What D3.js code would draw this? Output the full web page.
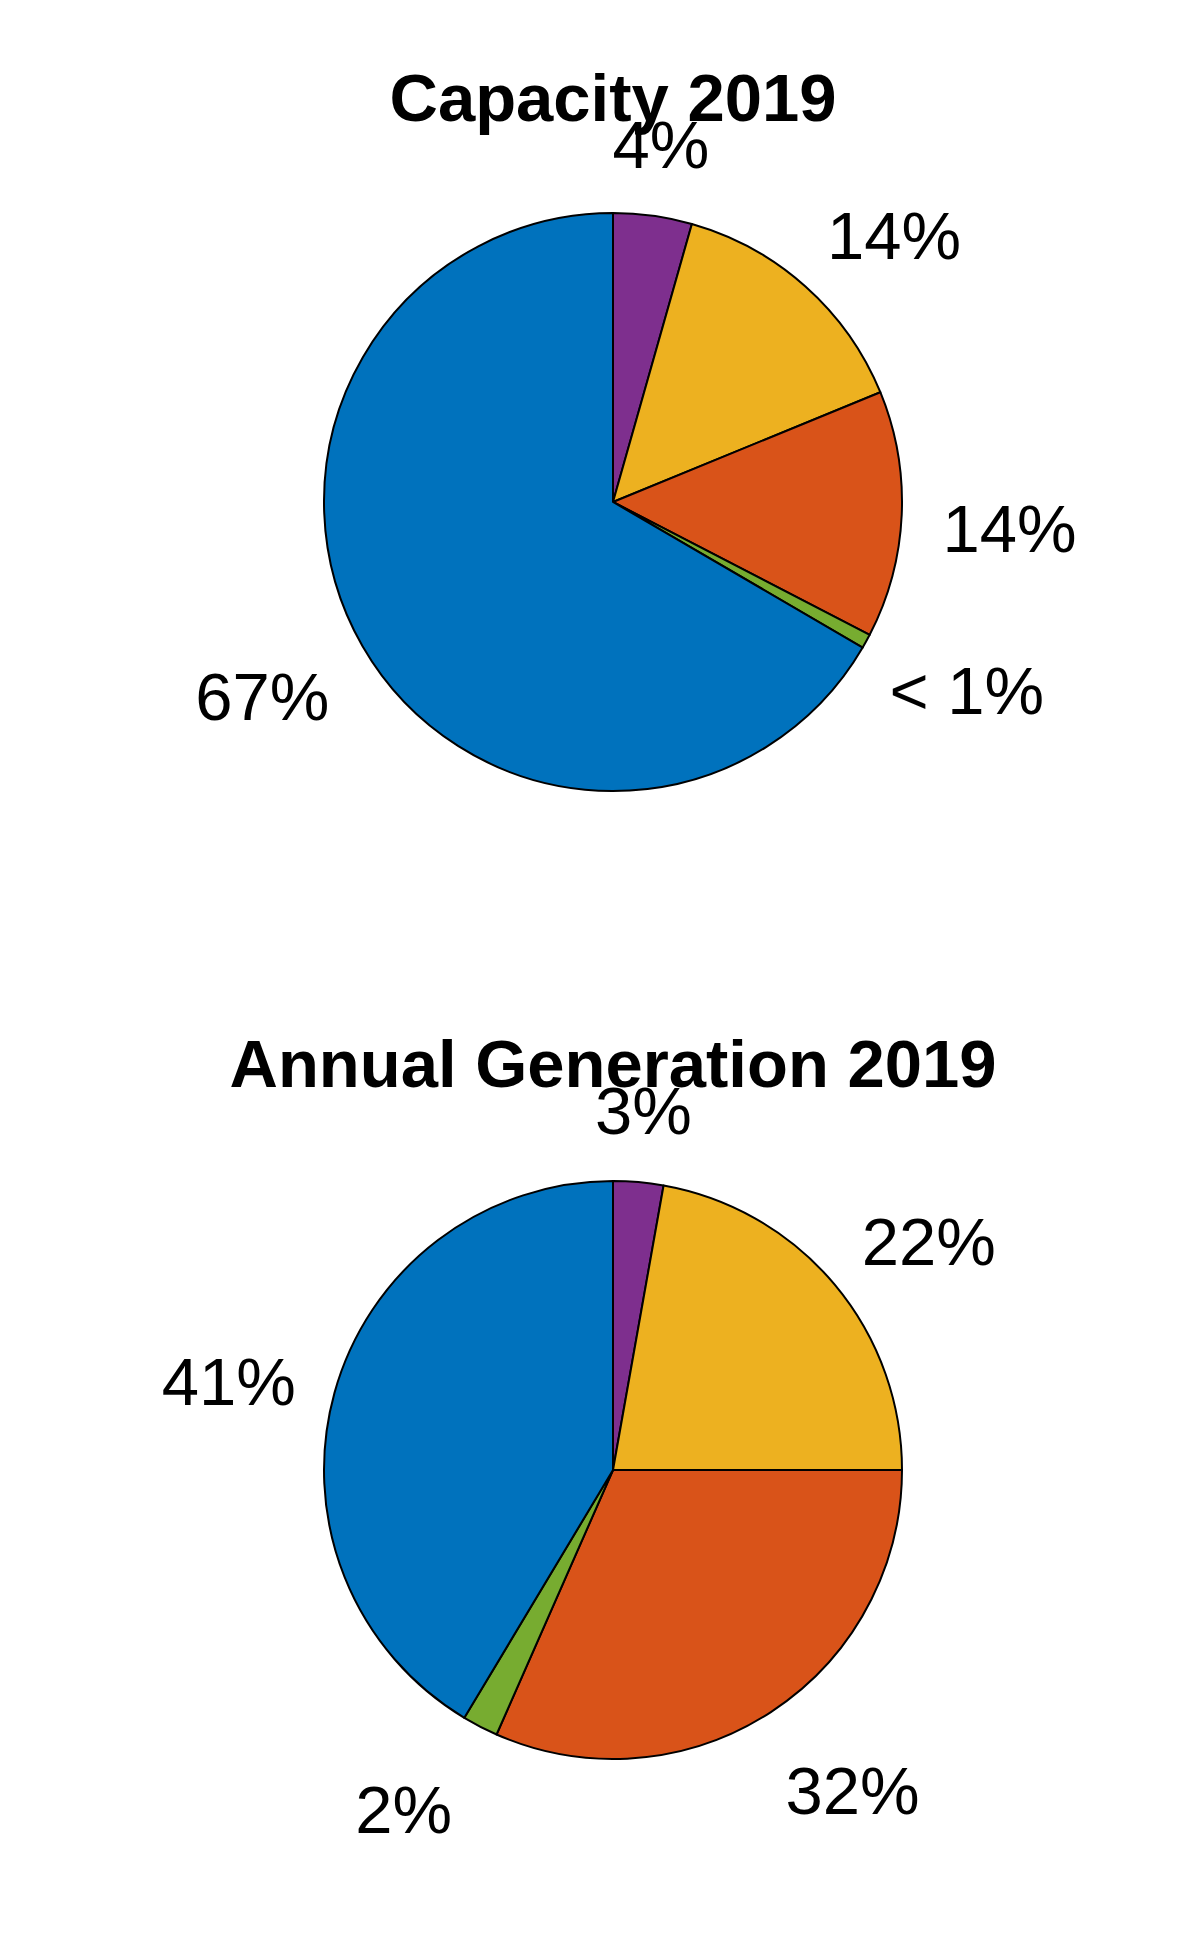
<!DOCTYPE html>
<html>
<head>
<meta charset="utf-8">
<script src="https://cdn.jsdelivr.net/npm/d3@7"></script>
<style>
  html, body { margin: 0; padding: 0; background: #ffffff; }
  svg { display: block; }
  text { font-family: "Liberation Sans", Arial, Helvetica, sans-serif; fill: #000; }
</style>
</head>
<body>
<div id="chart"></div>
<script>
// ---- data (clockwise from 12 o'clock) ----
const categories = ["Category 1", "Category 2", "Category 3", "Category 4", "Category 5"];
const sliceColors = ["#7E2F8E", "#EDB120", "#D95319", "#77AC30", "#0072BD"];
const capacity2019 = [4.4, 14.4, 13.8, 0.8, 66.6];
const generation2019 = [2.8, 22.2, 31.6, 2.0, 41.4];
const chartTitles = ["Capacity 2019", "Annual Generation 2019"];

const W = 1184, H = 1959;
const svg = d3.select("#chart").append("svg")
  .attr("width", W).attr("height", H)
  .attr("viewBox", `0 0 ${W} ${H}`);
svg.append("rect").attr("width", W).attr("height", H).attr("fill", "#fff");

const radius = 289;
const labelFont = 67, titleFont = 67;

const panels = [
  { title: chartTitles[0], values: capacity2019, cx: 613, cy: 502, titleY: 121 },
  { title: chartTitles[1], values: generation2019, cx: 613, cy: 1470, titleY: 1087 }
];

const pie = d3.pie().sort(null).value(d => d.value).startAngle(0).endAngle(2 * Math.PI);
const arc = d3.arc().innerRadius(0).outerRadius(radius);
const color = d3.scaleOrdinal().domain(categories).range(sliceColors);
const fmt = v => v < 1 ? "< 1%" : Math.round(v) + "%";

panels.forEach(p => {
  const data = categories.map((c, i) => ({ cat: c, value: p.values[i] }));
  const arcs = pie(data);
  const g = svg.append("g").attr("transform", `translate(${p.cx},${p.cy})`);

  g.selectAll("path.slice").data(arcs).enter().append("path")
    .attr("class", "slice")
    .attr("d", arc)
    .attr("fill", d => color(d.data.cat))
    .attr("stroke", "#000")
    .attr("stroke-width", 2)
    .attr("stroke-linejoin", "round");

  // labels (MATLAB-like placement at 1.2 r)
  const capH = 0.716 * labelFont;
  g.selectAll("text.lbl").data(arcs).enter().append("text")
    .attr("class", "lbl")
    .attr("font-size", labelFont)
    .attr("text-anchor", "middle")
    .text(d => fmt(d.data.value))
    .each(function(d) {
      const a = (d.startAngle + d.endAngle) / 2;
      const dx = Math.sin(a), dy = -Math.cos(a);
      const ax = 1.2 * radius * dx, ay = 1.2 * radius * dy;
      const xOff = Math.abs(dx) < 0.2 ? 0 : Math.sign(dx) * 50;
      const cx = ax + xOff;
      const cy = ay + dy * capH / 2 + 9.5;
      d3.select(this).attr("x", cx).attr("y", cy + capH / 2);
    });

  svg.append("text")
    .attr("x", p.cx)
    .attr("y", p.titleY)
    .attr("text-anchor", "middle")
    .attr("font-size", titleFont)
    .attr("font-weight", "bold")
    .text(p.title);
});
</script>
</body>
</html>
